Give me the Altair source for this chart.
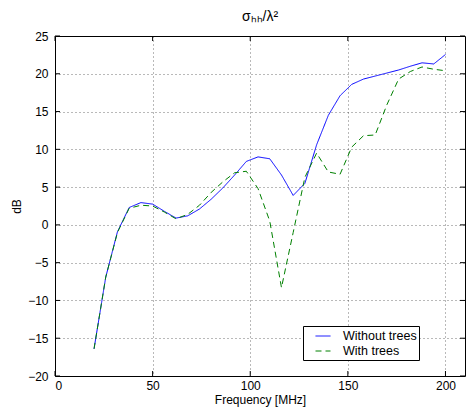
import altair as alt
import pandas as pd

freq = [20, 26, 32, 38, 44, 50, 56, 62, 68, 74, 80, 86, 92, 98, 104, 110, 116,
        122, 128, 134, 140, 146, 152, 158, 164, 170, 176, 182, 188, 194, 200]
without_trees = [-16.4, -6.9, -0.9, 2.3, 2.95, 2.75, 1.8, 0.9, 1.2, 2.1, 3.4, 4.9,
                 6.6, 8.4, 9.0, 8.75, 6.6, 3.9, 5.5, 10.6, 14.5, 17.1, 18.6, 19.3,
                 19.7, 20.1, 20.5, 21.0, 21.45, 21.3, 22.55]
with_trees = [-16.4, -6.9, -1.0, 2.2, 2.6, 2.5, 1.7, 0.8, 1.4, 2.6, 4.3, 5.7,
              6.9, 7.1, 4.8, 0.5, -8.3, -1.0, 6.3, 9.5, 7.0, 6.7, 10.3, 11.8,
              11.9, 15.9, 19.3, 20.3, 20.9, 20.6, 20.4]
series_names = ["Without trees", "With trees"]
series_colors = ["#0000ff", "#008000"]
x_ticks = [0, 50, 100, 150, 200]
y_ticks = [-20, -15, -10, -5, 0, 5, 10, 15, 20, 25]

n = len(freq)
df = pd.DataFrame({
    "freq": freq * 2,
    "db": without_trees + with_trees,
    "series": [series_names[0]] * n + [series_names[1]] * n,
})
xt = pd.DataFrame({"freq": x_ticks})
yt = pd.DataFrame({"db": y_ticks})

W, H = 410, 340
FONT = "Liberation Sans"

xs = alt.Scale(domain=[0, 210], nice=False, zero=False)
ys = alt.Scale(domain=[-20, 25], nice=False, zero=False)
xax = alt.Axis(values=x_ticks, title="Frequency [MHz]")
yax = alt.Axis(values=y_ticks, title="dB")

leg = alt.Legend(
    title=None, orient="none", legendX=248, legendY=290,
    direction="vertical", symbolType="stroke", symbolSize=225,
    symbolStrokeWidth=1, symbolOffset=10, labelOffset=12,
    labelFontSize=12.5, labelFont=FONT, labelColor="black",
    strokeColor="black", fillColor="white", padding=2,
    rowPadding=0, labelLimit=200,
)

lines = alt.Chart(df).mark_line(strokeWidth=1, clip=True).encode(
    x=alt.X("freq:Q", scale=xs, axis=xax),
    y=alt.Y("db:Q", scale=ys, axis=yax),
    color=alt.Color("series:N", sort=series_names,
                    scale=alt.Scale(domain=series_names, range=series_colors),
                    legend=leg),
    strokeDash=alt.StrokeDash("series:N", sort=series_names,
                              scale=alt.Scale(domain=series_names,
                                              range=[[1, 0], [6, 4]]),
                              legend=leg),
)

tick_b = alt.Chart(xt).mark_rule(color="black", strokeWidth=1).encode(
    x=alt.X("freq:Q", scale=xs, axis=xax), y=alt.value(H), y2=alt.value(H - 5))
tick_t = alt.Chart(xt).mark_rule(color="black", strokeWidth=1).encode(
    x=alt.X("freq:Q", scale=xs, axis=xax), y=alt.value(0), y2=alt.value(5))
tick_l = alt.Chart(yt).mark_rule(color="black", strokeWidth=1).encode(
    y=alt.Y("db:Q", scale=ys, axis=yax), x=alt.value(0), x2=alt.value(5))
tick_r = alt.Chart(yt).mark_rule(color="black", strokeWidth=1).encode(
    y=alt.Y("db:Q", scale=ys, axis=yax), x=alt.value(W), x2=alt.value(W - 5))

chart = alt.layer(lines, tick_b, tick_t, tick_l, tick_r).properties(
    width=W, height=H,
    autosize="none",
    padding={"left": 47, "top": 28, "right": 2, "bottom": 32},
    title=alt.TitleParams("σₕₕ/λ²", fontSize=14, fontWeight="normal",
                          font=FONT, offset=6, color="black"),
).configure_view(
    stroke="black", strokeWidth=1
).configure_axis(
    domain=False, ticks=False, grid=True, gridDash=[1, 3],
    gridColor="#000000", gridOpacity=0.55, gridWidth=1,
    labelFont=FONT, labelFontSize=12, labelColor="black",
    titleFont=FONT, titleFontSize=12, titleFontWeight="normal",
    titleColor="black",
).configure_axisX(
    labelPadding=4, titlePadding=3,
).configure_axisY(
    labelPadding=7, titlePadding=4,
)

chart.save("out.html", embed_options={"renderer": "svg", "actions": False})
